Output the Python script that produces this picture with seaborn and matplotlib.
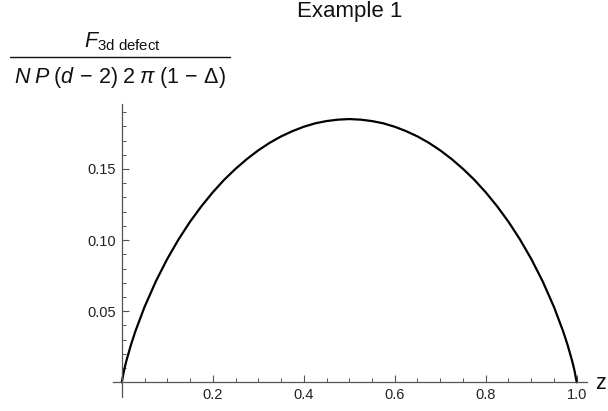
import numpy as np
import pandas as pd
import matplotlib
matplotlib.use("Agg")
import matplotlib.pyplot as plt
from matplotlib.lines import Line2D
from matplotlib.ticker import FixedLocator
import seaborn as sns

# values
z_vals = [0.0, 0.005, 0.01, 0.02, 0.03, 0.05, 0.075, 0.1, 0.125, 0.15, 0.175, 0.2, 0.225,
          0.25, 0.275, 0.3, 0.325, 0.35, 0.375, 0.4, 0.425, 0.45, 0.475, 0.5,
          0.525, 0.55, 0.575, 0.6, 0.625, 0.65, 0.675, 0.7, 0.725, 0.75, 0.775, 0.8,
          0.825, 0.85, 0.875, 0.9, 0.925, 0.95, 0.97, 0.98, 0.99, 0.995, 1.0]
f_vals = [0.0, 0.0084, 0.0150, 0.0262, 0.0360, 0.0530, 0.0711, 0.0868, 0.1006, 0.1129, 0.1238,
          0.1336, 0.1424, 0.1501, 0.1570, 0.1631, 0.1684, 0.1729, 0.1766, 0.1797, 0.1821,
          0.1837, 0.1847, 0.1851,
          0.1847, 0.1837, 0.1821, 0.1797, 0.1766, 0.1729, 0.1684, 0.1631, 0.1570, 0.1501,
          0.1424, 0.1336, 0.1238, 0.1129, 0.1006, 0.0868, 0.0711, 0.0530, 0.0360, 0.0262,
          0.0150, 0.0084, 0.0]
x_major = [0.2, 0.4, 0.6, 0.8, 1.0]
x_labels = ["0.2", "0.4", "0.6", "0.8", "1.0"]
y_major = [0.05, 0.10, 0.15]
y_labels = ["0.05", "0.10", "0.15"]
title = "Example 1"
y_num = r"$F_{\mathrm{3d\ defect}}$"
y_den = r"$N\;P\;(d\,-\,2)\;2\;\pi\;(1\,-\,\Delta)$"
x_name = "z"

sns.set_style("white")
plt.rcParams['font.family'] = ['Liberation Sans', 'DejaVu Sans']
plt.rcParams['mathtext.fontset'] = 'custom'
plt.rcParams['mathtext.rm'] = 'Liberation Sans'
plt.rcParams['mathtext.it'] = 'Liberation Sans:italic'
plt.rcParams['mathtext.bf'] = 'Liberation Sans:bold'

df = pd.DataFrame({"z": z_vals, "F": f_vals})

fig = plt.figure(figsize=(6.08, 4.11), dpi=100)
W, H = 608, 411
left, right, top, bottom = 113, 587, 104, 396.7
ax = fig.add_axes([left / W, 1 - bottom / H, (right - left) / W, (bottom - top) / H])

sns.lineplot(data=df, x="z", y="F", ax=ax, color="black", linewidth=1.6, sort=False,
             estimator=None)

ax.set_xlim(-0.0193, 1.0226)
ax.set_ylim(-0.0101, 0.1957)
ax.set_xlabel("")
ax.set_ylabel("")

for s in ["top", "right"]:
    ax.spines[s].set_visible(False)
for s in ["left", "bottom"]:
    ax.spines[s].set_position(("data", 0))
    ax.spines[s].set_color("#555555")
    ax.spines[s].set_linewidth(0.9)

ax.xaxis.set_major_locator(FixedLocator(x_major))
ax.set_xticklabels(x_labels)
ax.xaxis.set_minor_locator(FixedLocator([v for v in np.arange(0.05, 1.0, 0.05) if abs(v / 0.2 - round(v / 0.2)) > 1e-6]))
ax.yaxis.set_major_locator(FixedLocator(y_major))
ax.set_yticklabels(y_labels)
ax.yaxis.set_minor_locator(FixedLocator([v for v in np.arange(0.01, 0.195, 0.01) if abs(v / 0.05 - round(v / 0.05)) > 1e-6]))

ax.tick_params(which="both", bottom=True, left=True, top=False, right=False)
ax.tick_params(which="major", direction="in", length=5, width=0.8, color="#555555",
               labelsize=10.5, labelcolor="#222222")
ax.tick_params(which="minor", direction="in", length=3, width=0.7, color="#555555")
ax.tick_params(axis="x", which="major", pad=4)
ax.tick_params(axis="y", which="major", pad=4)

fig.text(350 / W, 1 - 1.0 / H, title, ha="center", va="top", fontsize=16, color="#111111")
fig.text(122 / W, 1 - 47 / H, y_num, ha="center", va="baseline", fontsize=15.5, color="#111111")
fig.text(120 / W, 1 - 83 / H, y_den, ha="center", va="baseline", fontsize=15.5, color="#111111")
fig.add_artist(Line2D([10 / W, 230 / W], [1 - 56.7 / H, 1 - 56.7 / H],
                      transform=fig.transFigure, color="#111111", linewidth=1.0))
fig.text(600 / W, 1 - 383 / H, x_name, ha="center", va="center", fontsize=15.5, color="#111111")

fig.savefig("out.png", dpi=100)
